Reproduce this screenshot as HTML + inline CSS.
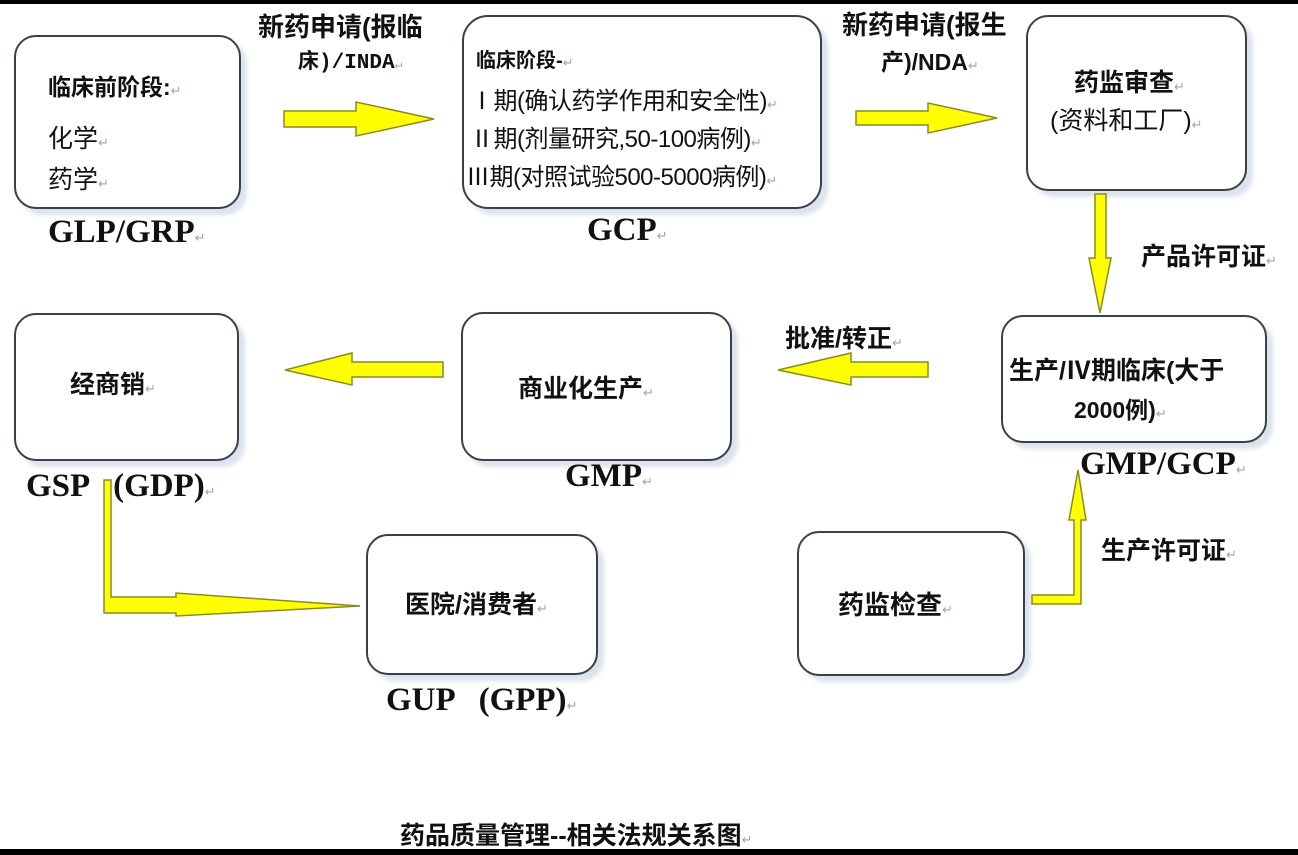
<!DOCTYPE html>
<html><head><meta charset="utf-8"><style>
body{margin:0;width:1298px;height:855px;background:#fff;position:relative;overflow:hidden;font-family:"Liberation Sans","Noto Sans CJK SC",sans-serif;font-weight:bold;color:#111}
.b{position:absolute;border:2px solid #3a4048;border-radius:22px;background:#fff;box-shadow:6px 6px 4px #dde3ec;box-sizing:border-box}
.t{position:absolute;white-space:nowrap;font-size:21px}
.g{position:absolute;white-space:nowrap;font-family:"Liberation Serif","Noto Serif CJK SC",serif;font-size:33px;font-weight:bold}
.r{color:#9aa;font-size:13px;font-weight:normal}
svg{position:absolute;left:0;top:0}
</style></head><body>
<div style="position:absolute;left:0;top:0;width:1298px;height:4px;background:#000"></div>
<div style="position:absolute;left:0;top:849px;width:1298px;height:6px;background:#000"></div>

<div class="b" style="left:14px;top:35px;width:227px;height:174px"></div>
<div class="b" style="left:462px;top:15px;width:360px;height:194px;border-radius:26px"></div>
<div class="b" style="left:1026px;top:15px;width:221px;height:176px"></div>
<div class="b" style="left:1001px;top:315px;width:266px;height:128px"></div>
<div class="b" style="left:461px;top:312px;width:271px;height:149px"></div>
<div class="b" style="left:14px;top:313px;width:225px;height:148px"></div>
<div class="b" style="left:366px;top:534px;width:232px;height:141px"></div>
<div class="b" style="left:797px;top:531px;width:228px;height:145px"></div>

<svg width="1298" height="855">
<g fill="#ffff00" stroke="#8a8a20" stroke-width="1.5">
<polygon points="284,111 356,111 356,102 434,119 356,136 356,127 284,127"/>
<polygon points="856,111 928,111 928,103 997,118 928,133 928,125 856,125"/>
<polygon points="1095,194 1106,194 1106,258 1111,258 1100,313 1089,258 1095,258"/>
<polygon points="928,362 851,362 851,353 778,370 851,385 851,377 928,377"/>
<polygon points="443,362 352,362 352,353 285,370 352,385 352,377 443,377"/>
<polygon points="104,480 111,480 111,597 176,597 176,593 360,606 176,616 176,613 104,613"/>
<polygon points="1032,595 1074,595 1074,520 1069,520 1078,470 1086,520 1081,520 1081,604 1032,604"/>
</g>
</svg>

<div class="t" style="left:48px;top:68px;font-size:23px">临床前阶段:<span class="r">↵</span></div>
<div class="t" style="left:48px;top:119px;font-weight:normal;font-size:25px">化学<span class="r">↵</span></div>
<div class="t" style="left:48px;top:160px;font-weight:normal;font-size:25px">药学<span class="r">↵</span></div>
<div class="g" style="left:48px;top:214px">GLP/GRP<span class="r">↵</span></div>

<div class="t" style="left:258px;top:7px;font-size:26px">新药申请(报临</div>
<div class="t" style="left:298px;top:45px;font-size:21px;font-family:'Liberation Mono','Noto Sans CJK SC',monospace">床)/INDA<span class="r">↵</span></div>

<div class="t" style="left:476px;top:44px;font-size:20px">临床阶段-<span class="r">↵</span></div>
<div class="t" style="left:470px;top:81px;font-weight:normal;font-size:24px;letter-spacing:-0.5px">Ⅰ期(确认药学作用和安全性)<span class="r">↵</span></div>
<div class="t" style="left:470px;top:119px;font-weight:normal;font-size:24px;letter-spacing:-0.5px">Ⅱ期(剂量研究,50-100病例)<span class="r">↵</span></div>
<div class="t" style="left:466px;top:157px;font-weight:normal;font-size:24px;letter-spacing:-0.5px">Ⅲ期(对照试验500-5000病例)<span class="r">↵</span></div>
<div class="g" style="left:587px;top:212px">GCP<span class="r">↵</span></div>

<div class="t" style="left:842px;top:5px;font-size:26px">新药申请(报生</div>
<div class="t" style="left:881px;top:43px;font-size:23px">产)/NDA<span class="r">↵</span></div>

<div class="t" style="left:1074px;top:63px;font-size:25px">药监审查<span class="r">↵</span></div>
<div class="t" style="left:1050px;top:101px;font-size:25px;font-weight:normal">(资料和工厂)<span class="r">↵</span></div>

<div class="t" style="left:1141px;top:237px;font-size:25px">产品许可证<span class="r">↵</span></div>

<div class="t" style="left:785px;top:319px;font-size:25px">批准/转正<span class="r">↵</span></div>
<div class="t" style="left:1009px;top:351px;font-size:25px">生产/Ⅳ期临床(大于</div>
<div class="t" style="left:1074px;top:391px;font-size:23px">2000例)<span class="r">↵</span></div>
<div class="g" style="left:1080px;top:446px">GMP/GCP<span class="r">↵</span></div>

<div class="t" style="left:518px;top:369px;font-size:25px">商业化生产<span class="r">↵</span></div>
<div class="g" style="left:565px;top:458px">GMP<span class="r">↵</span></div>

<div class="t" style="left:70px;top:365px;font-size:25px">经商销<span class="r">↵</span></div>
<div class="g" style="left:26px;top:468px">GSP &nbsp;&nbsp;(GDP)<span class="r">↵</span></div>

<div class="t" style="left:1101px;top:531px;font-size:25px">生产许可证<span class="r">↵</span></div>
<div class="t" style="left:838px;top:585px;font-size:26px">药监检查<span class="r">↵</span></div>

<div class="t" style="left:405px;top:585px;font-size:25px">医院/消费者<span class="r">↵</span></div>
<div class="g" style="left:386px;top:682px">GUP &nbsp;&nbsp;(GPP)<span class="r">↵</span></div>

<div class="t" style="left:400px;top:816px;font-size:25px">药品质量管理--相关法规关系图<span class="r">↵</span></div>
</body></html>
